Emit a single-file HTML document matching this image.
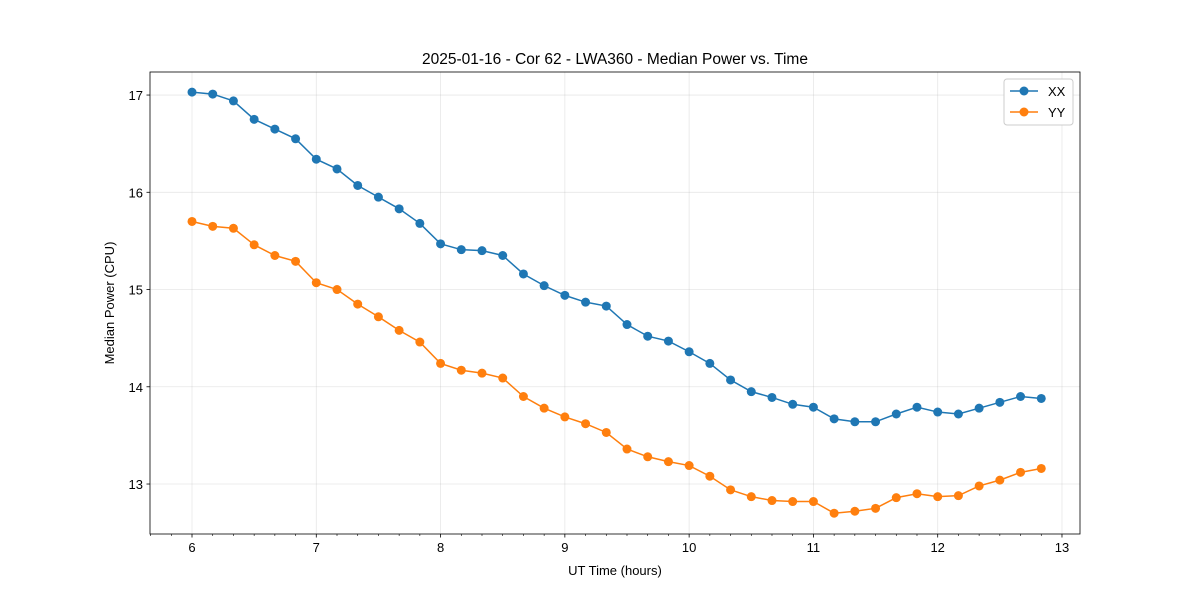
<!DOCTYPE html>
<html><head><meta charset="utf-8"><style>
body{margin:0;background:#fff;}
svg{display:block;font-family:"Liberation Sans","DejaVu Sans",sans-serif;}
</style></head><body>
<svg id="chart" width="1200" height="600"></svg>
<script>
const xxValues=[17.03,17.01,16.94,16.75,16.65,16.55,16.34,16.24,16.07,15.95,15.83,15.68,15.47,15.41,15.40,15.35,15.16,15.04,14.94,14.87,14.83,14.64,14.52,14.47,14.36,14.24,14.07,13.95,13.89,13.82,13.79,13.67,13.64,13.64,13.72,13.79,13.74,13.72,13.78,13.84,13.90,13.88];
const yyValues=[15.70,15.65,15.63,15.46,15.35,15.29,15.07,15.00,14.85,14.72,14.58,14.46,14.24,14.17,14.14,14.09,13.90,13.78,13.69,13.62,13.53,13.36,13.28,13.23,13.19,13.08,12.94,12.87,12.83,12.82,12.82,12.70,12.72,12.75,12.86,12.90,12.87,12.88,12.98,13.04,13.12,13.16];
const xTicks=[6,7,8,9,10,11,12,13];
const yTicks=[13,14,15,16,17];
const times=xxValues.map((_,i)=>6+i/6);

const L=150,R=1080,T=72,B=534;
const xMin=5.662,xMax=13.145,yMin=12.486,yMax=17.237;
const sx=v=>L+(v-xMin)/(xMax-xMin)*(R-L);
const sy=v=>B-(v-yMin)/(yMax-yMin)*(B-T);
const svg=document.getElementById('chart');
const NS='http://www.w3.org/2000/svg';
function mk(tag,attrs,parent){const e=document.createElementNS(NS,tag);for(const k in attrs)e.setAttribute(k,attrs[k]);(parent||svg).appendChild(e);return e;}

const grid=mk('g',{});


xTicks.forEach(t=>{mk('line',{x1:sx(t),x2:sx(t),y1:T,y2:B,stroke:'#b0b0b0','stroke-width':0.8,'stroke-opacity':0.3},grid);});
yTicks.forEach(t=>{mk('line',{x1:L,x2:R,y1:sy(t),y2:sy(t),stroke:'#b0b0b0','stroke-width':0.8,'stroke-opacity':0.3},grid);});

const xa=mk('g',{});


for(let k=34;k<=78;k++){const m=k/6;if(k%6===0)continue;mk('line',{x1:sx(m),x2:sx(m),y1:B,y2:B+2,stroke:'#000','stroke-width':0.6},xa);}
xTicks.forEach(t=>{mk('line',{x1:sx(t),x2:sx(t),y1:B,y2:B+3.5,stroke:'#000','stroke-width':0.8},xa);
 const tx=mk('text',{x:sx(t),y:B+18,'text-anchor':'middle','font-size':13},xa);tx.textContent=t;});
const ya=mk('g',{});


yTicks.forEach(t=>{mk('line',{x1:L-3.5,x2:L,y1:sy(t),y2:sy(t),stroke:'#000','stroke-width':0.8},ya);
 const tx=mk('text',{x:L-7,y:sy(t)+5,'text-anchor':'end','font-size':13},ya);tx.textContent=t;});

function series(vals,color,name){
 const g=mk('g',{});
 
 
 mk('polyline',{points:vals.map((v,i)=>sx(times[i])+','+sy(v)).join(' '),fill:'none',stroke:color,'stroke-width':1.5},g);
 vals.forEach((v,i)=>{const c=mk('circle',{cx:sx(times[i]),cy:sy(v),r:4.5,fill:color},g);
  
  });
}
series(xxValues,'#1f77b4','series-xx');
series(yyValues,'#ff7f0e','series-yy');

mk('rect',{x:L,y:T,width:R-L,height:B-T,fill:'none',stroke:'#000','stroke-width':0.8});

const title=mk('text',{x:(L+R)/2,y:64,'text-anchor':'middle','font-size':15.5});
title.textContent='2025-01-16 - Cor 62 - LWA360 - Median Power vs. Time';


const xt=mk('text',{x:(L+R)/2,y:575,'text-anchor':'middle','font-size':13});
xt.textContent='UT Time (hours)';


const yt=mk('text',{x:114,y:(T+B)/2,'text-anchor':'middle','font-size':13,transform:'rotate(-90 114 '+(T+B)/2+')'});
yt.textContent='Median Power (CPU)';



const lg=mk('g',{});


mk('rect',{x:1004,y:79,width:69,height:46,rx:3,fill:'#fff',stroke:'#ccc','stroke-width':1},lg);
[['XX','#1f77b4',91],['YY','#ff7f0e',112]].forEach(([n,c,y])=>{
 const e=mk('g',{},lg);
 
 
 mk('line',{x1:1010,x2:1038,y1:y,y2:y,stroke:c,'stroke-width':1.5},e);
 mk('circle',{cx:1024,cy:y,r:4.5,fill:c},e);
 const t=mk('text',{x:1048,y:y+5,'font-size':13},e);t.textContent=n;
});
</script>
</body></html>
